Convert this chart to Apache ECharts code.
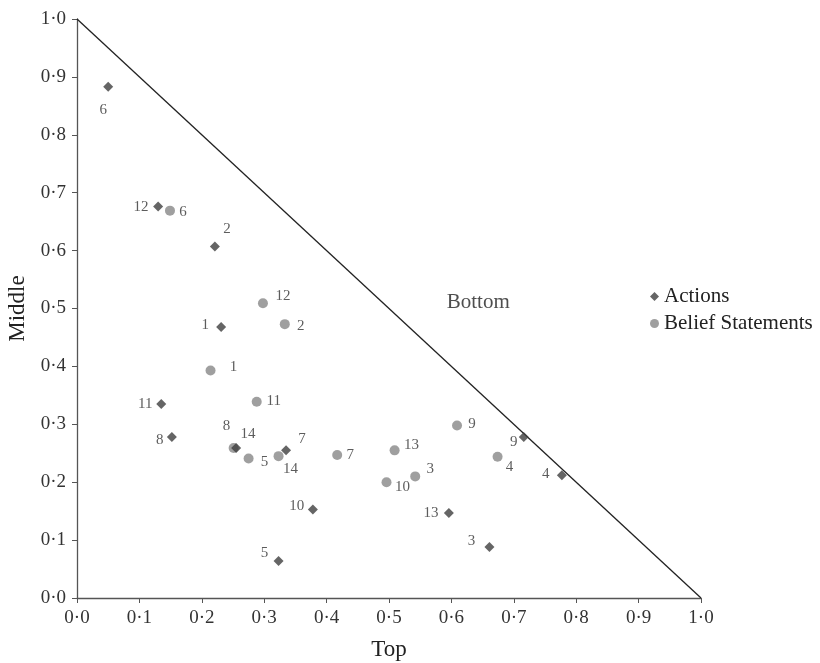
<!DOCTYPE html>
<html>
<head>
<meta charset="utf-8">
<script src="https://cdn.jsdelivr.net/npm/echarts@6/dist/echarts.min.js"></script>
<style>html,body{margin:0;padding:0;background:#fff;}#c{width:820px;height:663px;}</style>
</head>
<body>
<div id="c"></div>
<script>
// ---- data ----
var actionIds    = [1, 2, 3, 4, 5, 6, 7, 8, 9, 10, 11, 12, 13, 14];
var actionTop    = [0.231, 0.221, 0.661, 0.777, 0.323, 0.050, 0.335, 0.152, 0.716, 0.378, 0.135, 0.130, 0.596, 0.255];
var actionMiddle = [0.468, 0.607, 0.088, 0.212, 0.064, 0.883, 0.255, 0.278, 0.278, 0.153, 0.335, 0.676, 0.147, 0.259];

var beliefIds    = [1, 2, 3, 4, 5, 6, 7, 8, 9, 10, 11, 12, 13, 14];
var beliefTop    = [0.214, 0.333, 0.542, 0.674, 0.275, 0.149, 0.417, 0.251, 0.609, 0.496, 0.288, 0.298, 0.509, 0.323];
var beliefMiddle = [0.393, 0.473, 0.210, 0.244, 0.241, 0.669, 0.247, 0.259, 0.298, 0.200, 0.339, 0.509, 0.255, 0.245];

var axisTicks = [0, 0.1, 0.2, 0.3, 0.4, 0.5, 0.6, 0.7, 0.8, 0.9, 1.0];
var boundary  = [[0, 1], [1, 0]];
var regionLabel = {text: 'Bottom', top: 0.643, middle: 0.510};

// ---- label placement (style) ----
var actionLabelOffset = {
  1: [-16, -2], 2: [12, -17], 3: [-18, -6], 4: [-16, -1], 5: [-14, -8], 6: [-5, 23], 7: [16, -11],
  8: [-12, 3], 9: [-10, 5], 10: [-16, -3], 11: [-16, 0], 12: [-17, 0], 13: [-18, 0], 14: [12, -14]
};
var beliefLabelOffset = {
  1: [23, -3], 2: [16, 2], 3: [15, -7], 4: [12, 10], 5: [16, 4], 6: [13, 1], 7: [13, 0],
  8: [-7, -22], 9: [15, -1], 10: [16, 5], 11: [17, -1], 12: [20, -7], 13: [17, -5], 14: [12, 13]
};

var FONT = '"Liberation Serif", "DejaVu Serif", serif';

function buildPoints(ids, xs, ys, offsets) {
  return ids.map(function (id, i) {
    return {
      value: [xs[i], ys[i]],
      name: String(id),
      label: {offset: offsets[id]}
    };
  });
}

function fmt(v) { return v.toFixed(1).replace('.', '\u00b7'); }

var chart = echarts.init(document.getElementById('c'), null, {renderer: 'canvas'});

var axisCommon = {
  type: 'value', min: axisTicks[0], max: axisTicks[axisTicks.length - 1], interval: 0.1,
  axisLine: {show: true, onZero: false, lineStyle: {color: '#555', width: 1.3}},
  axisTick: {show: true, inside: false, length: 5, lineStyle: {color: '#555'}},
  splitLine: {show: false},
  axisLabel: {color: '#333', fontFamily: FONT, fontSize: 19, formatter: fmt},
  nameTextStyle: {color: '#222', fontFamily: FONT, fontSize: 23}
};

chart.setOption({
  backgroundColor: '#fff',
  animation: false,
  grid: {left: 77, right: 119, top: 19, bottom: 65, containLabel: false, outerBoundsMode: 'none'},
  legend: {
    data: [{name: 'Actions', icon: 'diamond'}, {name: 'Belief Statements', icon: 'circle'}],
    orient: 'vertical', left: 645, top: 281,
    itemWidth: 9, itemHeight: 9, itemGap: 6,
    textStyle: {color: '#222', fontFamily: FONT, fontSize: 21}
  },
  xAxis: Object.assign({}, axisCommon, {
    name: 'Top', nameLocation: 'middle', nameGap: 40,
    axisLabel: Object.assign({}, axisCommon.axisLabel, {margin: 11})
  }),
  yAxis: Object.assign({}, axisCommon, {
    name: 'Middle', nameLocation: 'middle', nameGap: 47, nameRotate: 90,
    axisLabel: Object.assign({}, axisCommon.axisLabel, {margin: 11})
  }),
  series: [
    {
      type: 'line', data: boundary, symbol: 'none', silent: true,
      lineStyle: {color: '#222', width: 1.3}, z: 1
    },
    {
      name: 'Actions', type: 'scatter', symbol: 'diamond', symbolSize: 10,
      itemStyle: {color: '#3f3f3f'},
      data: buildPoints(actionIds, actionTop, actionMiddle, actionLabelOffset),
      label: {show: true, position: 'inside', formatter: '{b}', color: '#333',
              fontFamily: FONT, fontSize: 15, align: 'center', verticalAlign: 'middle'},
      z: 3
    },
    {
      name: 'Belief Statements', type: 'scatter', symbol: 'circle', symbolSize: 10,
      itemStyle: {color: '#878787'},
      data: buildPoints(beliefIds, beliefTop, beliefMiddle, beliefLabelOffset),
      label: {show: true, position: 'inside', formatter: '{b}', color: '#333',
              fontFamily: FONT, fontSize: 15, align: 'center', verticalAlign: 'middle'},
      z: 2
    },
    {
      type: 'scatter', symbol: 'circle', symbolSize: 1, silent: true,
      itemStyle: {color: 'rgba(0,0,0,0)'},
      data: [{value: [regionLabel.top, regionLabel.middle], name: regionLabel.text}],
      label: {show: true, position: 'inside', formatter: '{b}', color: '#222',
              fontFamily: FONT, fontSize: 21, align: 'center', verticalAlign: 'middle'}
    }
  ]
});
</script>
</body>
</html>
